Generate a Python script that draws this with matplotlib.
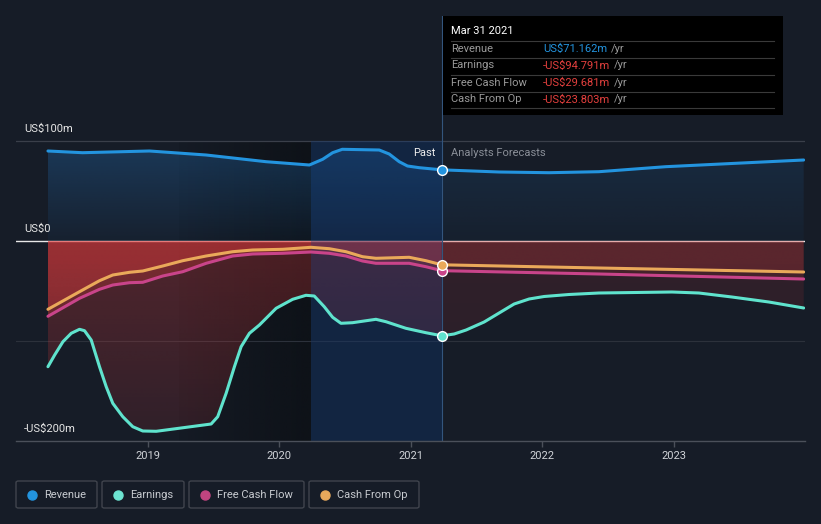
import numpy as np
import matplotlib
matplotlib.use("Agg")
import matplotlib.pyplot as plt
from matplotlib.patches import Rectangle, FancyBboxPatch
from matplotlib.lines import Line2D

plt.rcParams["font.family"] = ["Roboto", "DejaVu Sans"]

W, H = 821, 524
BG = "#161c27"

# ---- data (US$m, decimal years) ----
rev_past_t = [2018.243, 2018.506, 2019.015, 2019.446, 2019.902, 2020.231, 2020.332,
              2020.408, 2020.481, 2020.762, 2020.838, 2020.914, 2020.977, 2021.067, 2021.238]
rev_past_v = [90, 88.3, 90, 86, 79.3, 76, 81.7, 88.3, 91.7, 91, 87, 79.3, 75, 73.3, 71.162]
rev_fc_t = [2021.238, 2021.674, 2022.054, 2022.433, 2022.940, 2023.990]
rev_fc_v = [71.162, 69, 68.3, 69.3, 74.3, 81]

earn_past_t = [2018.243, 2018.294, 2018.357, 2018.420, 2018.483, 2018.521, 2018.572,
               2018.635, 2018.686, 2018.736, 2018.812, 2018.888, 2018.964, 2019.066,
               2019.484, 2019.534, 2019.598, 2019.661, 2019.712, 2019.775, 2019.851,
               2019.978, 2020.104, 2020.205, 2020.268, 2020.344, 2020.408, 2020.471,
               2020.559, 2020.737, 2020.813, 2020.965, 2021.117, 2021.238]
earn_past_v = [-125.7, -114, -100.7, -92.3, -88.3, -89.7, -99, -125.7, -145.7, -162.3,
               -175.7, -185.7, -190, -190.3, -183, -175.7, -152.3, -125.7, -105.7, -92.3,
               -84, -67.3, -58.3, -54.3, -55, -65.7, -76.3, -82.3, -81.7, -78.3, -80.7,
               -87.3, -91.7, -94.791]
earn_fc_t = [2021.238, 2021.332, 2021.423, 2021.560, 2021.674, 2021.788, 2021.902,
             2022.016, 2022.205, 2022.433, 2022.988, 2023.193, 2023.444, 2023.725, 2023.990]
earn_fc_v = [-94.791, -93, -89, -81, -72, -63, -58, -55.5, -53.5, -52, -51, -52, -56,
             -61, -67]

fcf_past_t = [2018.243, 2018.483, 2018.635, 2018.736, 2018.863, 2018.964, 2019.116,
              2019.268, 2019.446, 2019.648, 2019.800, 2020.028, 2020.243, 2020.382,
              2020.509, 2020.635, 2020.737, 2020.990, 2021.117, 2021.238]
fcf_past_v = [-75.3, -57.3, -48.3, -44, -41.7, -41.3, -35, -30.7, -22.3, -15, -13,
              -12.3, -11, -12.3, -15, -20, -22.3, -22.3, -25.7, -29.681]
fcf_fc_t = [2021.238, 2022.433, 2023.990]
fcf_fc_v = [-29.681, -33, -38]

cfo_past_t = [2018.243, 2018.483, 2018.635, 2018.736, 2018.863, 2018.964, 2019.116,
              2019.268, 2019.446, 2019.648, 2019.800, 2020.028, 2020.243, 2020.382,
              2020.509, 2020.635, 2020.737, 2020.990, 2021.117, 2021.238]
cfo_past_v = [-68.3, -50.7, -39.7, -34, -31.3, -30, -25, -19.7, -15, -10.7, -9, -8.3,
              -6.3, -7.7, -10.7, -15.7, -17.3, -16.3, -19.7, -23.803]
cfo_fc_t = [2021.238, 2022.433, 2023.990]
cfo_fc_v = [-23.803, -27, -31]

NOW = 2021.238
PAST_START = 2020.243
DARK_START = 2019.243
YEARS = [2019, 2020, 2021, 2022, 2023]

C_REV = "#2394df"
C_EARN = "#5fe3cd"
C_FCF = "#c9448a"
C_CFO = "#eaa95a"


def px(x, y):
    return x / W, 1 - y / H


def gradient_fill(ax, t, v, rgb, a_top, a_bot, y_top, y_bot, z):
    t = np.asarray(t)
    poly = ax.fill_between(t, v, 0, facecolor="none", edgecolor="none")
    path = poly.get_paths()[0]
    grad = np.zeros((256, 1, 4))
    grad[..., :3] = np.array(rgb) / 255
    grad[..., 3] = np.linspace(a_top, a_bot, 256)[:, None]
    im = ax.imshow(grad, extent=[t.min(), t.max(), y_bot, y_top], aspect="auto",
                   origin="upper", zorder=z, interpolation="bilinear")
    im.set_clip_path(path, transform=ax.transData)


fig = plt.figure(figsize=(W / 100, H / 100), dpi=100, facecolor=BG)
ax = fig.add_axes([16 / W, (H - 441) / H, (805 - 16) / W, (441 - 16) / H])
ax.set_facecolor(BG)

# darker band before the past year (horizontal gradient)
band = np.zeros((1, 256, 4))
band[..., :3] = np.array((14, 18, 24)) / 255
band[..., 3] = np.linspace(0.15, 1.0, 256)[None, :]
ax.imshow(band, extent=[DARK_START, PAST_START, -200, 100], aspect="auto",
          origin="upper", zorder=0.2, interpolation="bilinear")

# revenue fills
gradient_fill(ax, rev_past_t, rev_past_v, (35, 110, 180), 0.36, 0.06, 100, 0, 1)
gradient_fill(ax, rev_fc_t, rev_fc_v, (35, 110, 180), 0.2, 0.05, 100, 0, 1)

# negative fills
RED = (230, 60, 60)
for t, v in [(earn_past_t, earn_past_v), (fcf_past_t, fcf_past_v), (cfo_past_t, cfo_past_v)]:
    gradient_fill(ax, t, v, RED, 0.29, 0.12, 0, -200, 1)
for t, v in [(earn_fc_t, earn_fc_v), (fcf_fc_t, fcf_fc_v), (cfo_fc_t, cfo_fc_v)]:
    gradient_fill(ax, t, v, RED, 0.13, 0.09, 0, -200, 1)

# past highlight
ax.add_patch(Rectangle((PAST_START, -200), NOW - PAST_START, 300, facecolor="#0a3a80",
                       alpha=0.3, zorder=2, lw=0))
ax.axvline(NOW, color="#33557d", lw=0.8, zorder=2.5)

# grid lines
ax.axhline(100, color="#3a3f4a", lw=0.9, zorder=0.5)
ax.axhline(-100, color="#2c313b", lw=0.8, zorder=0.5)
ax.axhline(0, color="#e8e8e8", lw=1.0, zorder=0.8)

# lines
lw = 2.2
for (tp, vp, tf, vf, c) in [
    (rev_past_t, rev_past_v, rev_fc_t, rev_fc_v, C_REV),
    (earn_past_t, earn_past_v, earn_fc_t, earn_fc_v, C_EARN),
    (fcf_past_t, fcf_past_v, fcf_fc_t, fcf_fc_v, C_FCF),
    (cfo_past_t, cfo_past_v, cfo_fc_t, cfo_fc_v, C_CFO),
]:
    ax.plot(tp, vp, color=c, lw=lw, zorder=3, solid_capstyle="round", solid_joinstyle="round")
    ax.plot(tf, vf, color=c, lw=lw, zorder=3, solid_capstyle="round", solid_joinstyle="round")

for v, c in [(rev_past_v[-1], C_REV), (earn_past_v[-1], C_EARN),
             (fcf_past_v[-1], C_FCF), (cfo_past_v[-1], C_CFO)]:
    ax.plot([NOW], [v], "o", ms=7, color=c, mec="white", mew=1, zorder=4)

ax.set_xlim(2018.0, 2024.0)
ax.set_ylim(-200, 225)

for s in ["top", "right", "left"]:
    ax.spines[s].set_visible(False)
ax.spines["bottom"].set_color("#4b505a")
ax.spines["bottom"].set_linewidth(1)
ax.set_yticks([])
ax.set_xticks(YEARS)
ax.set_xticklabels([str(y) for y in YEARS])
ax.tick_params(axis="x", colors="#4b505a", length=4, width=1, labelcolor="#d0d3d8",
               labelsize=8, pad=3)

# y labels
for lab, yy in [("US$100m", 129), ("US$0", 229), ("-US$200m", 429)]:
    fig.text(*px(24, yy), lab, color="#e6e6e6", fontsize=8, va="center", ha="left")

fig.text(*px(435, 153), "Past", color="#eeeeee", fontsize=8, va="center", ha="right")
fig.text(*px(451, 153), "Analysts Forecasts", color="#8a8f98", fontsize=8, va="center",
         ha="left")

# tooltip
x0, y0 = px(443, 115)
x1, y1 = px(783, 16)
fig.patches.append(Rectangle((x0, y0), x1 - x0, y1 - y0, transform=fig.transFigure,
                             facecolor="black", edgecolor="none", zorder=5))
fig.text(*px(451, 31), "Mar 31 2021", color="white", fontsize=8, va="center", ha="left",
         zorder=6)
for yy in [40.5, 57.5, 74.5, 91.5, 108.5]:
    fig.add_artist(Line2D([451 / W, 774 / W], [1 - yy / H] * 2, color="#3a3a3a", lw=0.8,
                          zorder=6))
rows = [("Revenue", "US$71.162m", C_REV), ("Earnings", "-US$94.791m", "#e5403e"),
        ("Free Cash Flow", "-US$29.681m", "#e5403e"), ("Cash From Op", "-US$23.803m", "#e5403e")]
for i, (lab, val, c) in enumerate(rows):
    yy = 48.5 + i * 17
    fig.text(*px(451, yy), lab, color="#9a9a9a", fontsize=8, va="center", ha="left", zorder=6)
    tv = fig.text(*px(543, yy), val, color=c, fontsize=8, va="center", ha="left", zorder=6)
    fig.add_artist(plt.Annotation("/yr", xy=(1, 0.5), xycoords=tv, xytext=(2.5, 0),
                                  textcoords="offset points", color="#9a9a9a", fontsize=8,
                                  va="center", ha="left", zorder=6))

# legend
legend = [("Revenue", "#2394df", 16, 97), ("Earnings", "#6de4d1", 102, 184),
          ("Free Cash Flow", "#c1447f", 189, 304), ("Cash From Op", "#e6a85c", 309, 419)]
for lab, c, lx0, lx1 in legend:
    bx, by = px(lx0, 508)
    fig.patches.append(FancyBboxPatch((bx, by), (lx1 - lx0) / W, 27 / H,
                                      boxstyle="round,pad=0,rounding_size=0.003",
                                      transform=fig.transFigure, facecolor="none",
                                      edgecolor="#40444d", lw=1))
    fig.add_artist(Line2D([(lx0 + 16) / W], [1 - 494.5 / H], marker="o", ms=6.5, color=c,
                          lw=0))
    fig.text(*px(lx0 + 28, 494.5), lab, color="#c8cbd0", fontsize=8, va="center", ha="left")

fig.savefig("out.png", dpi=100, facecolor=BG)
